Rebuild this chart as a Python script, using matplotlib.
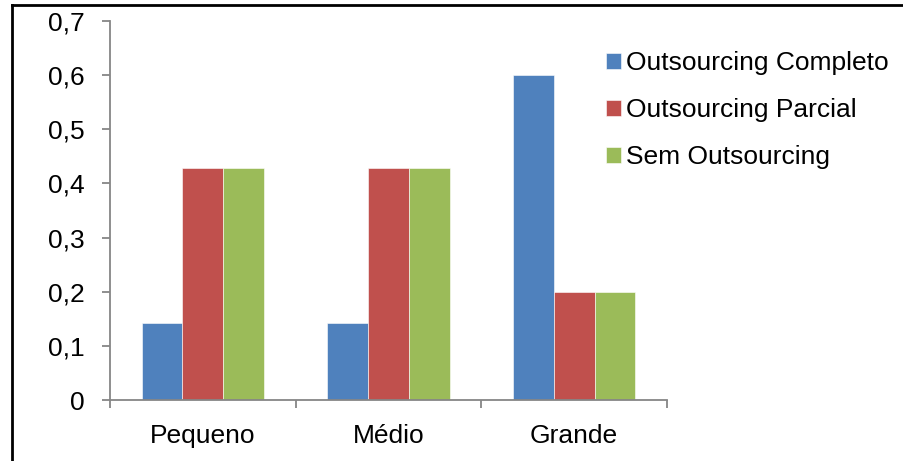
import matplotlib
matplotlib.use("Agg")
import matplotlib.pyplot as plt
from matplotlib.lines import Line2D
import numpy as np

categories = ["Pequeno", "Médio", "Grande"]
series_names = ["Outsourcing Completo", "Outsourcing Parcial", "Sem Outsourcing"]
completo = [0.143, 0.143, 0.6]
parcial = [0.429, 0.429, 0.2]
sem = [0.429, 0.429, 0.2]
yticks = [0, 0.1, 0.2, 0.3, 0.4, 0.5, 0.6, 0.7]
ytick_labels = ["0", "0,1", "0,2", "0,3", "0,4", "0,5", "0,6", "0,7"]

colors = ["#4F81BD", "#C0504D", "#9BBB59"]
axis_gray = "#868686"

plt.rcParams["font.family"] = ["Liberation Sans", "DejaVu Sans"]
FS = 19

fig = plt.figure(figsize=(9.04, 4.61), dpi=100)
W, H = 904, 461
ax = fig.add_axes([110 / W, (H - 400) / H, (667 - 110) / W, (400 - 21) / H])

x = np.arange(len(categories))
width = 0.22
for i, (vals, name) in enumerate(zip([completo, parcial, sem], series_names)):
    ax.bar(x + (i - 1) * width, vals, width, color=colors[i], label=name,
           edgecolor="white", linewidth=0.4, zorder=2)

ax.set_xlim(-0.5, 2.5)
ax.set_ylim(0, 0.7)
ax.set_yticks(yticks)
ax.set_yticklabels(ytick_labels, fontsize=FS)
ax.set_xticks(x)
ax.set_xticklabels(categories, fontsize=FS)
ax.set_xticks([-0.5, 0.5, 1.5, 2.5], minor=True)

for s in ["top", "right"]:
    ax.spines[s].set_visible(False)
for s in ["left", "bottom"]:
    ax.spines[s].set_color(axis_gray)
    ax.spines[s].set_linewidth(1.3)

ax.tick_params(axis="y", direction="out", length=6, width=1.3, color=axis_gray,
               pad=12, labelcolor="black")
ax.tick_params(axis="x", which="major", length=0, pad=17, labelcolor="black")
ax.tick_params(axis="x", which="minor", direction="out", length=6, width=1.3,
               color=axis_gray)

ax.legend(loc="upper left", bbox_to_anchor=(606 / W, 1 - 51 / H),
          bbox_transform=fig.transFigure, frameon=False, fontsize=FS,
          handlelength=0.55, handleheight=0.55, handletextpad=0.2,
          labelspacing=0.88, borderpad=0, borderaxespad=0)

# Outer frame lines
fig.add_artist(Line2D([11.5 / W, 11.5 / W], [0, 1 - 5.5 / H], color="black",
                      linewidth=2, transform=fig.transFigure))
fig.add_artist(Line2D([11.5 / W, 1], [1 - 5.5 / H, 1 - 5.5 / H], color="black",
                      linewidth=2, transform=fig.transFigure))

fig.savefig("out.png", dpi=100)
